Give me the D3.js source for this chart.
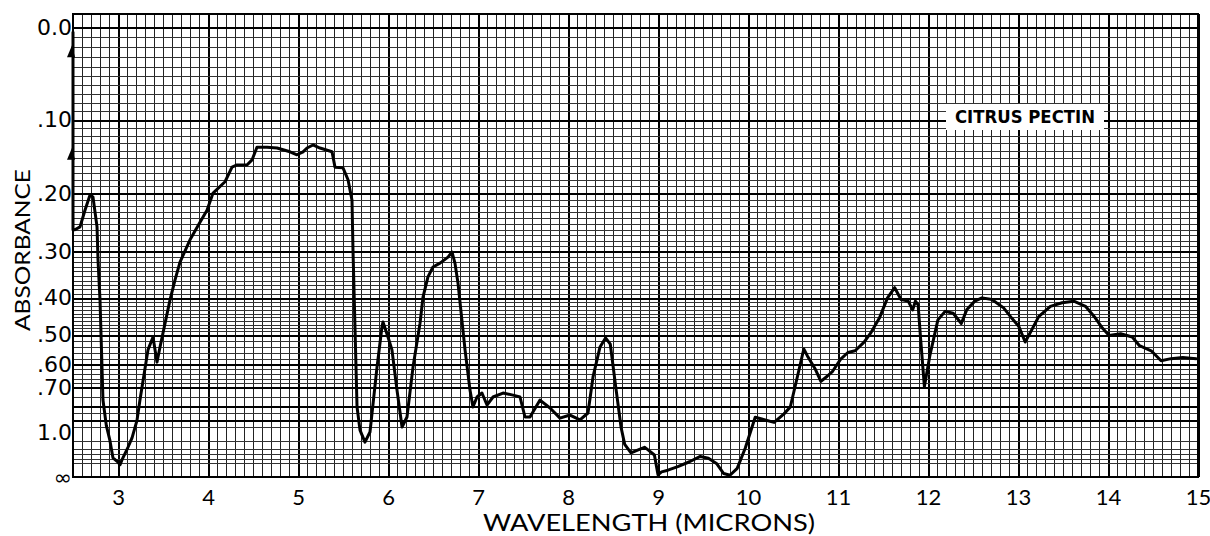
<!DOCTYPE html>
<html><head><meta charset="utf-8">
<script src="https://cdn.jsdelivr.net/npm/d3@7"></script>
<style>body{margin:0;background:#fff}svg{display:block}</style>
</head><body>
<svg id="chart" width="1210" height="536"></svg>
<script>
// ---- data ----
const wavelength = [2.5,2.5,2.52,2.578,2.633,2.689,2.722,2.767,2.778,2.80,2.833,2.87,2.91,2.944,3.0,3.022,3.044,3.111,3.156,3.211,3.244,3.333,3.389,3.433,3.467,3.578,3.633,3.689,3.80,3.911,3.989,4.056,4.189,4.267,4.322,4.433,4.489,4.544,4.656,4.767,4.911,4.989,5.056,5.10,5.167,5.244,5.378,5.411,5.50,5.556,5.60,5.611,5.656,5.689,5.744,5.80,5.878,5.933,5.944,6.0,6.044,6.10,6.156,6.211,6.278,6.356,6.389,6.444,6.50,6.578,6.667,6.711,6.744,6.778,6.856,6.911,6.944,6.989,7.044,7.10,7.167,7.278,7.389,7.467,7.522,7.578,7.689,7.80,7.911,8.022,8.133,8.222,8.278,8.356,8.417,8.47,8.53,8.59,8.63,8.70,8.78,8.85,8.89,8.96,9.0,9.04,9.11,9.22,9.35,9.47,9.56,9.65,9.73,9.80,9.88,9.97,10.08,10.29,10.40,10.47,10.55,10.62,10.66,10.75,10.81,10.88,10.94,11.03,11.11,11.19,11.29,11.37,11.46,11.55,11.63,11.70,11.78,11.83,11.86,11.89,11.92,11.96,12.02,12.11,12.19,12.28,12.37,12.43,12.52,12.60,12.71,12.84,12.93,13.01,13.08,13.14,13.23,13.36,13.49,13.62,13.75,13.86,13.94,14.01,14.14,14.27,14.35,14.48,14.59,14.70,14.83,14.98];
const absorbance = [0.005,0.26,0.26,0.255,0.227,0.203,0.206,0.255,0.317,0.405,0.767,0.94,1.09,1.37,1.48,1.57,1.42,1.18,1.06,0.90,0.767,0.549,0.507,0.593,0.539,0.405,0.359,0.321,0.278,0.247,0.227,0.200,0.183,0.162,0.159,0.159,0.152,0.135,0.135,0.136,0.141,0.145,0.141,0.136,0.132,0.136,0.141,0.162,0.163,0.180,0.211,0.297,0.808,0.982,1.11,1.0,0.612,0.477,0.463,0.507,0.549,0.714,0.954,0.875,0.612,0.466,0.398,0.352,0.331,0.323,0.311,0.301,0.323,0.366,0.549,0.714,0.808,0.750,0.729,0.796,0.750,0.729,0.740,0.750,0.875,0.875,0.767,0.814,0.883,0.861,0.897,0.847,0.653,0.539,0.510,0.53,0.697,0.959,1.14,1.27,1.22,1.18,1.22,1.31,2.3,1.94,1.82,1.64,1.47,1.34,1.38,1.52,2.11,2.42,1.72,1.19,0.877,0.916,0.853,0.808,0.65,0.546,0.570,0.622,0.673,0.65,0.629,0.582,0.558,0.552,0.523,0.492,0.452,0.40,0.376,0.404,0.408,0.43,0.408,0.417,0.52,0.697,0.570,0.457,0.434,0.439,0.467,0.43,0.408,0.40,0.404,0.425,0.452,0.476,0.523,0.492,0.448,0.421,0.412,0.408,0.421,0.452,0.481,0.502,0.497,0.507,0.535,0.552,0.588,0.58,0.576,0.58];
const xTickValues = [3,4,5,6,7,8,9,10,11,12,13,14,15];
const yTickAbs = [0,0.1,0.2,0.3,0.4,0.5,0.6,0.7,1.0,Infinity];
const yTickLabels = ["0.0",".10",".20",".30",".40",".50",".60",".70","1.0","\u221E"];
const markerAbs = [0.025,0.145];
const sampleName = "CITRUS PECTIN";
const xTitle = "WAVELENGTH (MICRONS)";
const yTitle = "ABSORBANCE";

// ---- layout ----
const L = 73, R = 1198, T0 = 14, B = 477;
const svg = d3.select("#chart");
const x = d3.scaleLinear().domain([2.5, 15]).range([L, R]);
const yT = d3.scaleLinear().domain([0, 1.029]).range([B, T0]);   // transmittance-linear paper
const trans = a => (a === Infinity ? 0 : Math.pow(10, -a));
const y = a => yT(trans(a));

// grid levels (absorbance) of the chart paper
const gridAbs = [].concat(
  d3.range(0, 50).map(i => i / 100),
  d3.range(0, 10).map(i => 0.5 + i * 0.02),
  d3.range(0, 6).map(i => 0.7 + i * 0.05),
  [1.1, 1.2, 1.3, 1.4, 1.5]
);
const isMajorA = a => [0,0.1,0.2,0.3,0.4,0.5,0.6,0.7,0.8,0.9,1.0].some(v => Math.abs(v - a) < 1e-6);

const grid = svg.append("g").attr("shape-rendering", "crispEdges");
d3.range(25, 151).forEach(k => {
  const w = k / 10;
  const major = k % 10 === 0;
  grid.append("line")
    .attr("x1", Math.round(x(w)) + 0.5).attr("x2", Math.round(x(w)) + 0.5)
    .attr("y1", T0).attr("y2", B)
    .attr("stroke", major ? "#000" : "#222")
    .attr("stroke-width", major ? 2 : 1);
});
gridAbs.forEach(a => {
  const yy = Math.round(y(a)) + 0.5;
  const major = isMajorA(a);
  grid.append("line")
    .attr("x1", L).attr("x2", R).attr("y1", yy).attr("y2", yy)
    .attr("stroke", major ? "#000" : "#333")
    .attr("stroke-width", major ? 2 : 1);
});
svg.append("rect").attr("x", L).attr("y", T0).attr("width", R - L).attr("height", B - T0)
  .attr("fill", "none").attr("stroke", "#000").attr("stroke-width", 2);

// axes
const fontAxis = "Lato, 'DejaVu Sans', sans-serif";
const xAxis = d3.axisBottom(x).tickValues(xTickValues).tickSize(0).tickPadding(12).tickFormat(d3.format("d"));
const gx = svg.append("g").attr("transform", `translate(0,${B})`).call(xAxis);
gx.select(".domain").remove();
gx.selectAll("text").attr("font-size", 22).attr("font-family", fontAxis).attr("fill", "#000");

const yAxis = d3.axisLeft(yT).tickValues(yTickAbs.map(trans)).tickSize(0).tickPadding(1)
  .tickFormat((d, i) => yTickLabels[i]);
const gy = svg.append("g").attr("transform", `translate(${L},0)`).call(yAxis);
gy.select(".domain").remove();
gy.selectAll("text").attr("font-size", 22).attr("font-family", "'DejaVu Sans', sans-serif").attr("fill", "#000");

svg.append("text").attr("x", 649).attr("y", 531).attr("text-anchor", "middle")
  .attr("font-family", fontAxis).attr("font-size", 23).attr("textLength", 332)
  .attr("lengthAdjust", "spacingAndGlyphs").text(xTitle);
svg.append("text").attr("transform", "translate(30,250) rotate(-90)").attr("text-anchor", "middle")
  .attr("font-family", fontAxis).attr("font-size", 22).attr("textLength", 162)
  .attr("lengthAdjust", "spacingAndGlyphs").text(yTitle);

// spectrum trace
const pts = wavelength.map((w, i) => [w, absorbance[i]]);
svg.append("path").datum(pts)
  .attr("d", d3.line().x(d => x(d[0])).y(d => y(d[1])))
  .attr("fill", "none").attr("stroke", "#000").attr("stroke-width", 3)
  .attr("stroke-linejoin", "round").attr("stroke-linecap", "round");

// pen start markers
markerAbs.forEach(a => {
  const cx = x(2.5) - 1, cy = y(a);
  svg.append("path").attr("d", `M${cx},${cy - 7}L${cx - 5},${cy + 5}L${cx + 3},${cy + 5}Z`).attr("fill", "#000");
});

// sample label
const lg = svg.append("g");
const lbox = { x: 946, y: 104, w: 158, h: 26 };
lg.append("rect").attr("x", lbox.x).attr("y", lbox.y).attr("width", lbox.w).attr("height", lbox.h).attr("fill", "#fff");
lg.append("text").attr("x", lbox.x + lbox.w / 2).attr("y", lbox.y + 19).attr("text-anchor", "middle")
  .attr("font-family", "'DejaVu Sans Condensed', 'DejaVu Sans', sans-serif").attr("font-weight", "bold")
  .attr("font-size", 17).attr("textLength", 140).attr("lengthAdjust", "spacingAndGlyphs")
  .text(sampleName);
</script>
</body></html>
